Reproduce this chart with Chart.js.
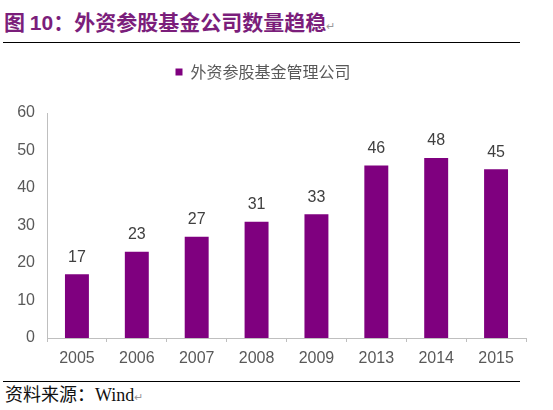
<!DOCTYPE html>
<html>
<head>
<meta charset="utf-8">
<script src="https://cdn.jsdelivr.net/npm/chart.js@4.4.1/dist/chart.umd.min.js"></script>
<style>
  body { margin: 0; background: #fff; width: 553px; height: 410px; overflow: hidden; position: relative; }
  #titulo { position: absolute; left: 4px; top: 8px; font-family: "Noto Sans CJK SC", sans-serif; font-weight: bold; font-size: 21px; color: #7b1e7b; line-height: 26px; white-space: nowrap; }
  #titulo .num { font-family: "Liberation Sans", Arial, sans-serif; }
  .marca { color: #999; font-size: 11px; font-weight: normal; }
  .linea { position: absolute; left: 3px; width: 517px; height: 1px; background: #000; }
  #fuente { position: absolute; left: 5px; top: 383px; font-family: "Liberation Serif", "Noto Sans CJK SC", serif; font-size: 18px; color: #111; line-height: 21px; white-space: nowrap; }
  #fuente .cjk { font-family: "Noto Sans CJK SC", sans-serif; }
  #lienzo { position: absolute; left: 0; top: 50px; }
</style>
</head>
<body>
<div id="titulo">图 <span class="num">10</span>：外资参股基金公司数量趋稳<span class="marca">↵</span></div>
<div class="linea" style="top:42px"></div>
<div id="lienzo"><canvas id="grafico" width="553" height="325"></canvas></div>
<div class="linea" style="top:381px"></div>
<div id="fuente"><span class="cjk">资料来源：</span>Wind<span class="marca">↵</span></div>
<script>
const anios = ['2005', '2006', '2007', '2008', '2009', '2013', '2014', '2015']
const cantidades = [17, 23, 27, 31, 33, 46, 48, 45]
const nombreSerie = '外资参股基金管理公司'
const ticksY = [0, 10, 20, 30, 40, 50, 60]

// etiquetas de valor encima de cada barra
const etiquetasBarras = {
    id: 'etiquetasBarras',
    afterDatasetsDraw(chart) {
        const ctx = chart.ctx
        const meta = chart.getDatasetMeta(0)
        ctx.save()
        ctx.fillStyle = '#404040'
        ctx.font = '16px "Liberation Sans", Arial, sans-serif'
        ctx.textAlign = 'center'
        ctx.textBaseline = 'bottom'
        meta.data.forEach((barra, i) => {
            ctx.fillText(String(cantidades[i]), barra.x, barra.y - 9)
        })
        ctx.restore()
    }
}

// deja mas espacio debajo de la leyenda
const espacioLeyenda = {
    id: 'espacioLeyenda',
    beforeUpdate(chart) {
        const leyenda = chart.legend
        if (leyenda && !leyenda._parcheado) {
            const fitOriginal = leyenda.fit
            leyenda.fit = function () {
                fitOriginal.call(this)
                this.height += 23
            }
            leyenda._parcheado = true
        }
    }
}

const ctx = document.getElementById('grafico').getContext('2d')
const grafico = new Chart(ctx, {
    type: 'bar',
    data: {
        labels: anios,
        datasets: [{
            label: nombreSerie,
            data: cantidades,
            backgroundColor: '#7f007f',
            categoryPercentage: 1,
            barPercentage: 0.4
        }]
    },
    options: {
        responsive: false,
        animation: false,
        layout: { padding: { top: 2, right: 27, left: 0, bottom: 0 } },
        plugins: {
            legend: {
                display: true,
                position: 'top',
                labels: {
                    boxWidth: 7,
                    boxHeight: 7,
                    padding: 12,
                    color: '#595959',
                    font: { size: 16, family: '"Noto Sans CJK SC", sans-serif' }
                }
            },
            tooltip: { enabled: false }
        },
        scales: {
            x: {
                grid: { offset: true, drawOnChartArea: false, tickLength: 4, color: '#bfbfbf' },
                border: { color: '#bfbfbf' },
                ticks: { color: '#595959', padding: 7, font: { size: 16, family: '"Liberation Sans", Arial, sans-serif' } },
                afterFit: (escala) => { escala.height = 37 }
            },
            y: {
                min: 0,
                max: 60,
                afterBuildTicks: (escala) => { escala.ticks = ticksY.map(v => ({ value: v })) },
                grid: { display: false, drawTicks: false },
                border: { display: true, color: '#bfbfbf' },
                ticks: { color: '#595959', padding: 12, font: { size: 16, family: '"Liberation Sans", Arial, sans-serif' } },
                afterFit: (escala) => { escala.width = 47 }
            }
        }
    },
    plugins: [etiquetasBarras, espacioLeyenda]
})
</script>
</body>
</html>
